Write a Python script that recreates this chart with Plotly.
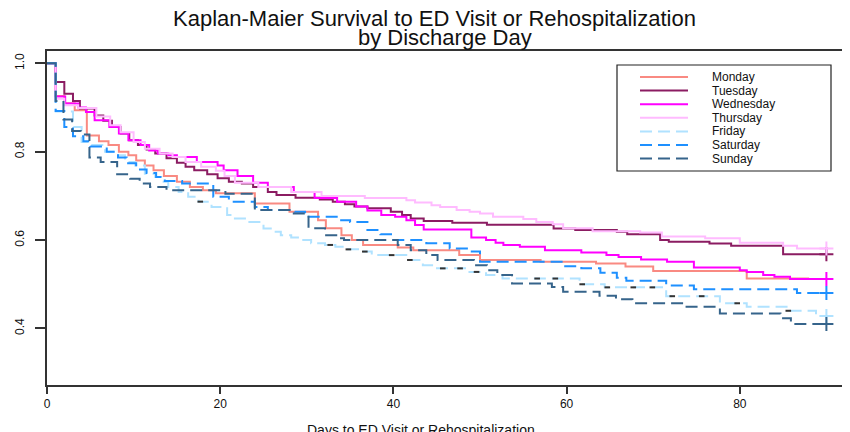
import plotly.graph_objects as go

# ---------------- data ----------------
series_names = ["Monday", "Tuesday", "Wednesday", "Thursday", "Friday", "Saturday", "Sunday"]

monday_days = [0, 1, 2, 3.2, 4.6, 6, 7.1, 8.3, 9.4, 10.3, 11.3, 12.3, 13.5, 15, 16.5, 18, 19.5, 24, 28,
               31.3, 32.2, 34, 35.2, 36.5, 40.5, 42.3, 47.6, 50, 57, 63.4, 66.8, 70, 80.8, 88]
monday_surv = [1.0, 0.926, 0.91, 0.894, 0.837, 0.824, 0.815, 0.80, 0.792, 0.78, 0.769, 0.758, 0.745, 0.732,
               0.72, 0.713, 0.706, 0.683, 0.664, 0.645, 0.627, 0.611, 0.60, 0.589, 0.583, 0.577, 0.566,
               0.555, 0.551, 0.547, 0.54, 0.53, 0.513, 0.513]

tuesday_days = [0, 1, 2, 3, 3.8, 5.5, 6.5, 7.5, 8.5, 9.5, 10.5, 11.5, 12.5, 13.8, 15, 16, 17, 18.5, 19.7,
                21, 22.5, 23.8, 25.5, 26.5, 28.7, 31.5, 33, 34.4, 35.5, 37, 39.7, 41, 42, 43.5, 46.8,
                50.8, 58.5, 61, 65.8, 67, 70.8, 71.8, 76.5, 79, 85, 90]
tuesday_surv = [1.0, 0.958, 0.931, 0.915, 0.898, 0.882, 0.870, 0.856, 0.841, 0.826, 0.815, 0.805, 0.796,
                0.785, 0.775, 0.766, 0.758, 0.749, 0.74, 0.732, 0.728, 0.72, 0.709, 0.702, 0.696, 0.692,
                0.687, 0.681, 0.676, 0.672, 0.664, 0.657, 0.649, 0.643, 0.639, 0.635, 0.626, 0.623,
                0.619, 0.613, 0.60, 0.596, 0.592, 0.587, 0.568, 0.568]

wednesday_days = [0, 1, 2.1, 3.6, 4.5, 5.5, 7.2, 8.3, 9.4, 10.8, 11.8, 12.8, 14, 15, 17.3, 19.7, 20.4, 22,
                  23.8, 25.5, 28.5, 30.9, 33.5, 35.7, 37, 38.6, 40.2, 41.5, 42.5, 43.5, 49, 50.7, 51.8,
                  52.7, 54.6, 57.5, 61.7, 64.6, 66, 68.6, 71.6, 74.7, 80, 80.8, 82.7, 84, 85.8, 90]
wednesday_surv = [1.0, 0.925, 0.909, 0.90, 0.89, 0.871, 0.856, 0.841, 0.826, 0.815, 0.803, 0.796, 0.792,
                  0.788, 0.777, 0.769, 0.758, 0.745, 0.730, 0.72, 0.709, 0.695, 0.687, 0.676, 0.667,
                  0.657, 0.653, 0.645, 0.634, 0.624, 0.606, 0.60, 0.594, 0.589, 0.585, 0.577, 0.572,
                  0.566, 0.562, 0.556, 0.551, 0.538, 0.532, 0.528, 0.521, 0.517, 0.512, 0.512]

thursday_days = [0, 1, 2, 3.6, 5.7, 7.3, 8.5, 10, 11.3, 13, 14.5, 16, 17.8, 19.5, 20.5, 21.7, 24.4, 28.2,
                 31.7, 36.7, 41.5, 42.5, 44.4, 45.4, 47.3, 48.8, 50, 51.5, 55, 56.5, 58.4, 59.6, 63,
                 68.5, 71, 76, 80, 85, 86.6, 90]
thursday_surv = [1.0, 0.92, 0.905, 0.899, 0.88, 0.86, 0.844, 0.822, 0.807, 0.796, 0.788, 0.777, 0.766,
                 0.757, 0.745, 0.73, 0.72, 0.709, 0.70, 0.695, 0.69, 0.685, 0.679, 0.675, 0.668, 0.664,
                 0.66, 0.653, 0.648, 0.641, 0.636, 0.627, 0.62, 0.617, 0.608, 0.604, 0.594, 0.587,
                 0.581, 0.581]

friday_days = [0, 1, 3, 4, 5.2, 6.7, 7.9, 9, 10.2, 11.3, 12.5, 13.2, 14, 15.2, 16.3, 17.5, 19, 20.8,
               21.7, 23.2, 25, 26.1, 27, 28.2, 29.4, 30.5, 32.1, 33.3, 34.4, 36.3, 37.5, 41.7, 43.4,
               44.6, 48.4, 50.7, 52.6, 61.5, 64.4, 71.5, 77.7, 80.8, 85.4, 88.8, 90]
friday_surv = [1.0, 0.891, 0.856, 0.822, 0.815, 0.80, 0.792, 0.777, 0.769, 0.75, 0.743, 0.732, 0.72,
               0.709, 0.698, 0.687, 0.675, 0.657, 0.649, 0.641, 0.626, 0.619, 0.611, 0.606, 0.60, 0.593,
               0.589, 0.585, 0.579, 0.574, 0.566, 0.555, 0.543, 0.536, 0.528, 0.521, 0.513, 0.50,
               0.493, 0.473, 0.457, 0.449, 0.44, 0.428, 0.428]
# small censoring ticks visible on the Friday curve
friday_censor_days = [17.7, 32.7, 34.8, 36.7, 39.8, 41.9, 45.7, 47.7, 49.6, 56.6, 58.7, 61.8, 64.7,
                      67.7, 69.9, 72.2, 75.6, 79.7, 85.6]

saturday_days = [0, 1, 2, 3, 4.2, 5, 6.9, 8.2, 9.2, 10.3, 11.5, 12.6, 13.6, 15.6, 19.2, 21, 24, 25.5,
                 28.6, 29.8, 33.6, 35, 37, 38.5, 40, 43.8, 46.5, 48.8, 50, 59.6, 61.7, 63.9, 65.8,
                 66.9, 71.5, 74.7, 86.6, 90]
saturday_surv = [1.0, 0.892, 0.856, 0.835, 0.824, 0.812, 0.80, 0.787, 0.774, 0.76, 0.752, 0.743, 0.734,
                 0.728, 0.698, 0.687, 0.675, 0.668, 0.664, 0.653, 0.645, 0.641, 0.623, 0.613, 0.60,
                 0.593, 0.581, 0.574, 0.551, 0.541, 0.536, 0.526, 0.515, 0.508, 0.497, 0.489, 0.48, 0.48]

sunday_days = [0, 1, 1.9, 2.9, 3.9, 4.9, 6.2, 8.1, 9.6, 10.7, 11.9, 13.8, 20.6, 24, 28, 30.2, 32.1,
               33.4, 34.3, 40.5, 42, 43.8, 45.1, 49.3, 50.8, 52, 53.7, 58.3, 59.6, 63.8, 65.7, 67.6,
               73.6, 77.7, 84.7, 85.9, 90]
sunday_surv = [1.0, 0.915, 0.873, 0.847, 0.839, 0.787, 0.777, 0.749, 0.739, 0.728, 0.72, 0.713, 0.705,
               0.668, 0.66, 0.627, 0.611, 0.604, 0.60, 0.589, 0.577, 0.566, 0.555, 0.543, 0.532, 0.521,
               0.502, 0.494, 0.483, 0.474, 0.466, 0.457, 0.449, 0.434, 0.423, 0.41, 0.41]

x_tick_values = [0, 20, 40, 60, 80]
y_tick_values = [0.4, 0.6, 0.8, 1.0]
y_tick_labels = ["0.4", "0.6", "0.8", "1.0"]

title_line1 = "Kaplan-Maier Survival to ED Visit or Rehospitalization"
title_line2 = "by Discharge Day"
x_title = "Days to ED Visit or Rehospitalization"

# ---------------- styles ----------------
series_days = [monday_days, tuesday_days, wednesday_days, thursday_days, friday_days, saturday_days, sunday_days]
series_surv = [monday_surv, tuesday_surv, wednesday_surv, thursday_surv, friday_surv, saturday_surv, sunday_surv]
colors = ["#F98A82", "#8B1C62", "#FF00FF", "#FFBBFF", "#B0E2FF", "#1E90FF", "#36648B"]
dashes = ["solid", "solid", "solid", "solid", "12px,6px", "12px,6px", "12px,6px"]
end_mark = [False, True, True, True, True, True, True]
FONT = "Liberation Sans, Arial, sans-serif"

# page body has an 8px margin: lay out in page pixels, shifted by OFF
OFF = 8
W, H = 850 - OFF, 432 - OFF
PLOT_L, PLOT_R, PLOT_T, PLOT_B = 47, 850, 51, 385          # page pixels of the plot frame
ML, MR, MT, MB = PLOT_L - OFF, 0, PLOT_T - OFF, 432 - PLOT_B
plot_w = W - ML - MR
plot_h = H - MT - MB
PX_PER_DAY = 8.66
x_range = [0, plot_w / PX_PER_DAY]
y_range = [0.272, 1.028]

def px_to_paper_x(px):          # px in page pixels
    return (px - PLOT_L) / plot_w

def py_to_paper_y(py):
    return (PLOT_B - py) / plot_h

def step_value(days, surv, t):
    v = surv[0]
    for d, s in zip(days, surv):
        if d <= t:
            v = s
    return v

fig = go.Figure()
for name, d, s, c, ds in zip(series_names, series_days, series_surv, colors, dashes):
    fig.add_trace(go.Scatter(x=d, y=s, mode="lines", name=name, showlegend=False,
                             line=dict(color=c, width=2, dash=ds, shape="hv")))
fig.add_trace(go.Scatter(x=friday_censor_days,
                         y=[step_value(friday_days, friday_surv, t) for t in friday_censor_days],
                         mode="markers", showlegend=False, hoverinfo="skip",
                         marker=dict(symbol="line-ew", size=4, color="#333333",
                                     line=dict(color="#333333", width=2))))
for name, d, s, c, em in zip(series_names, series_days, series_surv, colors, end_mark):
    if em:
        fig.add_trace(go.Scatter(x=d[-1:], y=s[-1:], mode="markers", showlegend=False, hoverinfo="skip",
                                 marker=dict(symbol="cross-thin", size=10, color=c,
                                             line=dict(color=c, width=2))))

# manual legend (box, sample lines, labels)
shapes = [dict(type="rect", xref="paper", yref="paper",
               x0=px_to_paper_x(617), x1=px_to_paper_x(831),
               y0=py_to_paper_y(171), y1=py_to_paper_y(65),
               line=dict(color="#222222", width=1.2), fillcolor="white", layer="above")]
annotations = []
for i, (name, c, ds) in enumerate(zip(series_names, colors, dashes)):
    row_y = py_to_paper_y(77 + 13.6 * i)
    shapes.append(dict(type="line", xref="paper", yref="paper",
                       x0=px_to_paper_x(640), x1=px_to_paper_x(688), y0=row_y, y1=row_y,
                       line=dict(color=c, width=2, dash=ds), layer="above"))
    annotations.append(dict(text=name, xref="paper", yref="paper", x=px_to_paper_x(710), y=row_y,
                            xanchor="left", yanchor="middle", showarrow=False,
                            font=dict(family=FONT, size=12, color="#111111")))

annotations.append(dict(text=title_line1, xref="paper", yref="paper", x=px_to_paper_x(434.5),
                        y=py_to_paper_y(19), xanchor="center", yanchor="middle", showarrow=False,
                        borderpad=0, font=dict(family=FONT, size=22, color="#111111")))
annotations.append(dict(text=title_line2, xref="paper", yref="paper", x=px_to_paper_x(444.5),
                        y=py_to_paper_y(38), xanchor="center", yanchor="middle", showarrow=False,
                        borderpad=0, font=dict(family=FONT, size=22, color="#111111")))
annotations.append(dict(text=x_title, xref="paper", yref="paper", x=px_to_paper_x(421),
                        y=py_to_paper_y(420), xanchor="center", yanchor="top", showarrow=False,
                        font=dict(family=FONT, size=14, color="#111111")))

fig.update_layout(
    width=W, height=H, margin=dict(l=ML, r=MR, t=MT, b=MB),
    paper_bgcolor="white", plot_bgcolor="white",
    shapes=shapes, annotations=annotations,
    xaxis=dict(range=x_range, tickvals=x_tick_values, ticks="outside", ticklen=7, tickwidth=1.5,
               tickcolor="#333333", showline=True, linecolor="#333333", linewidth=2, mirror=True,
               showgrid=False, zeroline=False,
               tickfont=dict(family=FONT, size=12, color="#111111")),
    yaxis=dict(range=y_range, tickvals=y_tick_values, ticktext=y_tick_labels, tickangle=-90,
               ticks="outside", ticklen=10, tickwidth=1.5, tickcolor="#333333",
               showline=True, linecolor="#333333", linewidth=2, mirror=False,
               showgrid=False, zeroline=False, ticklabelstandoff=6,
               tickfont=dict(family=FONT, size=12, color="#111111")),
)

fig.write_html("out.html")
